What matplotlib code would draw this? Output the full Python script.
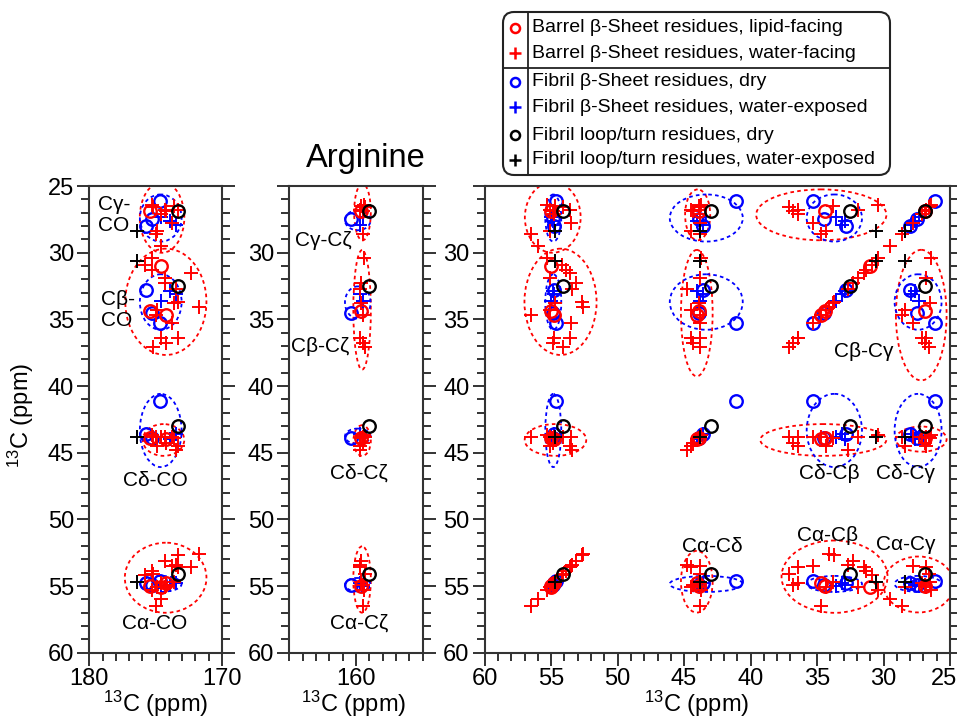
import numpy as np
import matplotlib
matplotlib.use("Agg")
import matplotlib.pyplot as plt
from matplotlib.patches import Ellipse, FancyBboxPatch
from matplotlib.lines import Line2D
from matplotlib.ticker import MultipleLocator, FixedLocator
from matplotlib.transforms import ScaledTranslation

plt.rcParams['font.family'] = ['Liberation Sans', 'DejaVu Sans']
plt.rcParams['mathtext.fontset'] = 'custom'
plt.rcParams['mathtext.rm'] = 'Liberation Sans'
plt.rcParams['mathtext.default'] = 'regular'

nan = np.nan
# ---- residue chemical shifts (ppm); columns: CO, CA, CB, CG, CD, CZ ----
shift_names = ["CO", "CA", "CB", "CG", "CD", "CZ"]

barrel_lipid = np.array([
    [174.6, 55.05, 31.0, nan, nan, nan],
    [175.4, 55.0, 34.4, 26.9, 43.9, 159.6],
    [174.2, 54.8, 34.7, nan, 44.0, nan],
])
barrel_water = np.array([
    [175.0, 56.5, 34.7, 28.6, 43.8, 159.5],
    [175.3, 55.3, 30.4, 26.4, 43.7, 159.4],
    [174.3, 55.1, 31.9, 26.8, 43.8, nan],
    [175.8, 54.2, 30.9, nan, nan, nan],
    [175.3, 53.9, 31.3, nan, nan, nan],
    [172.3, 53.6, 31.5, nan, nan, nan],
    [173.5, 53.4, 32.7, nan, 44.8, 159.7],
    [174.3, 53.1, 32.3, nan, nan, 159.6],
    [173.3, 52.7, 33.7, nan, nan, nan],
    [171.7, 52.6, 34.1, nan, nan, nan],
    [174.6, 54.8, 36.4, 27.1, 43.8, nan],
    [174.2, 54.9, 36.8, 26.9, 44.3, 159.5],
    [175.2, 54.1, 37.1, 26.6, 43.8, 159.3],
    [173.3, 53.6, 36.4, 26.8, 44.5, 159.7],
    [173.8, 53.5, 35.3, 27.8, 43.8, nan],
    [174.6, 56.0, nan, 29.5, nan, nan],
    [174.9, 55.1, 34.3, 28.4, 44.5, nan],
    [173.6, 54.7, 33.8, 26.5, 43.9, 159.6],
])
fibril_dry = np.array([
    [174.7, 54.65, 35.3, 26.1, 41.1, nan],
    [175.7, 54.8, 32.8, 28.0, 43.6, nan],
    [175.3, 54.9, 34.5, 27.5, 43.9, 160.4],
])
fibril_water = np.array([
    [174.6, 55.0, 33.6, 27.3, 43.8, 159.5],
    [173.5, 54.8, 33.1, 27.9, 43.6, 159.7],
    [173.9, 54.9, 32.9, 27.6, 44.0, nan],
])
loop_dry = np.array([
    [173.3, 54.1, 32.5, 26.9, 43.0, 159.0],
])
loop_water = np.array([
    [176.4, 54.7, 30.6, 28.4, 43.8, nan],
])

legend_labels = [
    "Barrel \u03b2-Sheet residues, lipid-facing",
    "Barrel \u03b2-Sheet residues, water-facing",
    "Fibril \u03b2-Sheet residues, dry",
    "Fibril \u03b2-Sheet residues, water-exposed",
    "Fibril loop/turn residues, dry",
    "Fibril loop/turn residues, water-exposed",
]

# ---- styles ----
series = [
    (fibril_dry, 'o', 'blue'),
    (fibril_water, '+', 'blue'),
    (barrel_lipid, 'o', 'red'),
    (barrel_water, '+', 'red'),
    (loop_dry, 'o', 'black'),
    (loop_water, '+', 'black'),
]
legend_styles = [('o', 'red'), ('+', 'red'), ('o', 'blue'), ('+', 'blue'),
                 ('o', 'black'), ('+', 'black')]
groups = [(np.vstack([barrel_lipid, barrel_water]), 'red'),
          (np.vstack([fibril_dry, fibril_water]), 'blue')]

idx = {n: i for i, n in enumerate(shift_names)}
row_keys = ["CG", "CB", "CD", "CA"]

W, H = 957, 718
fig = plt.figure(figsize=(W / 100, H / 100), dpi=100)

def px_axes(x0, y0, x1, y1):
    return fig.add_axes([x0 / W, 1 - y1 / H, (x1 - x0) / W, (y1 - y0) / H])

ax1 = px_axes(89.3, 186, 222.0, 652.7)
ax2 = px_axes(289.3, 186, 422.7, 652.7)
ax3 = px_axes(484.7, 186, 950.0, 652.7)

panels = [
    (ax1, ["CO"], (180, 170), [180, 170]),
    (ax2, ["CZ"], (165, 155), [160]),
    (ax3, ["CA", "CD", "CB", "CG"], (60, 25), [60, 55, 50, 45, 40, 35, 30, 25]),
]

spine_col = '#333333'
tick_fs = 17
for k, (ax, xkeys, xlim, xmaj) in enumerate(panels):
    # ellipses around clusters (off-diagonal only)
    for xk in xkeys:
        for yk in row_keys:
            if xk == yk:
                continue
            for gdata, gcol in groups:
                xs = gdata[:, idx[xk]]
                ys = gdata[:, idx[yk]]
                m = np.isfinite(xs) & np.isfinite(ys)
                if m.sum() < 2:
                    continue
                cx, cy = xs[m].mean(), ys[m].mean()
                sx = np.abs(xs[m] - cx).max() * 1.05 + 0.4
                sy = np.abs(ys[m] - cy).max() * 1.05 + 0.4
                ax.add_patch(Ellipse((cx, cy), 2 * sx, 2 * sy, fill=False,
                                     ec=gcol, ls=(0, (2, 1.8)), lw=1.3, zorder=1))
    # cross peaks
    for data, mk, col in series:
        xs_all, ys_all = [], []
        for xk in xkeys:
            for yk in row_keys:
                xs_all.append(data[:, idx[xk]])
                ys_all.append(data[:, idx[yk]])
        xs_all = np.concatenate(xs_all)
        ys_all = np.concatenate(ys_all)
        if mk == 'o':
            ax.plot(xs_all, ys_all, ls='none', marker='o', ms=9, mfc='none',
                    mec=col, mew=1.7, zorder=3)
        else:
            ax.plot(xs_all, ys_all, ls='none', marker='+', ms=10.5, mec=col,
                    mew=1.4, zorder=3)
    ax.set_xlim(*xlim)
    ax.set_ylim(60, 25)
    ax.xaxis.set_major_locator(FixedLocator(xmaj))
    ax.xaxis.set_minor_locator(MultipleLocator(1))
    ax.yaxis.set_major_locator(MultipleLocator(5))
    ax.yaxis.set_minor_locator(MultipleLocator(1))
    ax.tick_params(axis='both', which='both', direction='out', color=spine_col,
                   width=1.4, labelsize=tick_fs, pad=2)
    ax.tick_params(axis='y', which='both', left=True, right=True)
    ax.tick_params(axis='x', which='both', top=False, bottom=True)
    ax.tick_params(which='major', length=9)
    ax.tick_params(which='minor', length=5.5)
    for sp in ax.spines.values():
        sp.set_color(spine_col)
        sp.set_linewidth(1.5)
    if k > 0:
        ax.set_yticklabels(['' if v == 25 else str(int(v))
                            for v in ax.get_yticks()])
    else:
        ax.set_yticklabels([str(int(v)) for v in ax.get_yticks()])
    ax.set_xticklabels([str(int(v)) for v in xmaj])

# keep the last x tick label of the right panel inside the figure
last = ax3.get_xticklabels()[-1]
last.set_transform(last.get_transform() + ScaledTranslation(-6 / 100, 0, fig.dpi_scale_trans))

# region labels
lab_fs = 15
ax1.text(179.35, 27.2, "C\u03b3-\nCO", ha='left', va='center', fontsize=lab_fs, linespacing=1.15)
ax1.text(179.1, 34.3, "C\u03b2-\nCO", ha='left', va='center', fontsize=lab_fs, linespacing=1.15)
ax1.text(175.0, 47.05, "C\u03b4-CO", ha='center', va='center', fontsize=lab_fs)
ax1.text(175.05, 57.8, "C\u03b1-CO", ha='center', va='center', fontsize=lab_fs)
ax2.text(162.45, 29.05, "C\u03b3-C\u03b6", ha='center', va='center', fontsize=lab_fs)
ax2.text(162.7, 37.05, "C\u03b2-C\u03b6", ha='center', va='center', fontsize=lab_fs)
ax2.text(159.8, 46.55, "C\u03b4-C\u03b6", ha='center', va='center', fontsize=lab_fs)
ax2.text(159.8, 57.8, "C\u03b1-C\u03b6", ha='center', va='center', fontsize=lab_fs)
ax3.text(31.5, 37.4, "C\u03b2-C\u03b3", ha='center', va='center', fontsize=lab_fs)
ax3.text(34.1, 46.55, "C\u03b4-C\u03b2", ha='center', va='center', fontsize=lab_fs)
ax3.text(28.35, 46.55, "C\u03b4-C\u03b3", ha='center', va='center', fontsize=lab_fs)
ax3.text(42.85, 52.05, "C\u03b1-C\u03b4", ha='center', va='center', fontsize=lab_fs)
ax3.text(34.2, 51.2, "C\u03b1-C\u03b2", ha='center', va='center', fontsize=lab_fs)
ax3.text(28.35, 51.9, "C\u03b1-C\u03b3", ha='center', va='center', fontsize=lab_fs)

# overlay in pixel coordinates for titles, labels and legend
ov = fig.add_axes([0, 0, 1, 1], zorder=10)
ov.set_xlim(0, W)
ov.set_ylim(H, 0)
ov.axis('off')
ov.patch.set_alpha(0)

axlab = "$^{13}$C (ppm)"
ax_fs = 17
ov.text(156, 704, axlab, ha='center', va='center', fontsize=ax_fs)
ov.text(354, 704, axlab, ha='center', va='center', fontsize=ax_fs)
ov.text(697, 704, axlab, ha='center', va='center', fontsize=ax_fs)
ov.text(21, 415, axlab, ha='center', va='center', fontsize=ax_fs, rotation=90)
ov.text(366, 158, "Arginine", ha='center', va='center', fontsize=23.5)

# legend box
lx0, ly0, lx1, ly1 = 503, 12, 890, 175
ov.add_patch(FancyBboxPatch((lx0, ly0), lx1 - lx0, ly1 - ly0,
                            boxstyle="round,pad=0,rounding_size=11",
                            fc='white', ec='#222222', lw=1.5))
ov.add_line(Line2D([528, 528], [ly0, ly1], color='#222222', lw=1.3))
ov.add_line(Line2D([lx0, lx1], [68, 68], color='#222222', lw=1.3))
row_y = [28, 53, 82, 107, 135, 160]
for (mk, col), lab, yy in zip(legend_styles, legend_labels, row_y):
    if mk == 'o':
        ov.plot([515], [yy], marker='o', ms=6.5, mfc='none', mec=col, mew=1.8, ls='none')
    else:
        ov.plot([515], [yy], marker='+', ms=8, mec=col, mew=1.8, ls='none')
    ov.text(532, yy, lab, ha='left', va='center', fontsize=14)

fig.savefig("out.png", dpi=100)
